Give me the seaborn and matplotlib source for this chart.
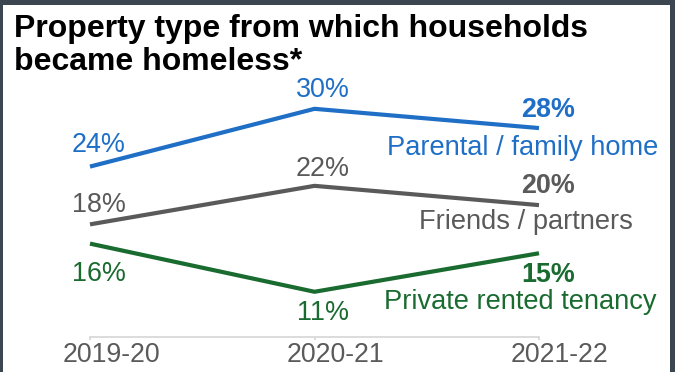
import matplotlib
matplotlib.use("Agg")
import matplotlib.pyplot as plt
from matplotlib.patches import Rectangle
from matplotlib.transforms import ScaledTranslation
import pandas as pd
import seaborn as sns

# Financial years shown on the x axis
years = ["2019-20", "2020-21", "2021-22"]

# Share of households (%) by property type they became homeless from
parental = [24, 30, 28]
friends = [18, 22, 20]
private_rented = [16, 11, 15]

series_names = ["Parental / family home", "Friends / partners", "Private rented tenancy"]
series_values = [parental, friends, private_rented]
colors = ["#1f6fc6", "#5a5a5a", "#1a6b30"]

rows = []
for name, vals in zip(series_names, series_values):
    for i, (yr, v) in enumerate(zip(years, vals)):
        rows.append({"pos": i, "year": yr, "series": name, "value": v})
df = pd.DataFrame(rows)

sns.set_theme(style="white")
plt.rcParams["font.family"] = ["Liberation Sans", "DejaVu Sans"]

DPI = 100
fig = plt.figure(figsize=(6.75, 3.72), dpi=DPI)
fig.patch.set_facecolor("white")
ax = fig.add_axes([0, 0, 1, 1])
ax.set_facecolor("none")

sns.lineplot(
    data=df, x="pos", y="value", hue="series", hue_order=series_names,
    palette=dict(zip(series_names, colors)), linewidth=3.0, legend=False,
    ax=ax, solid_capstyle="butt",
)

ax.set_xlim(-0.4009, 2.6058)
ax.set_ylim(2.669, 41.30)

# Bottom axis: a light rule between the first and last year
for side in ["left", "right", "top"]:
    ax.spines[side].set_visible(False)
ax.spines["bottom"].set_position(("data", 6.30))
ax.spines["bottom"].set_bounds(0, 2)
ax.spines["bottom"].set_color("#d6d6d6")
ax.spines["bottom"].set_linewidth(1.2)
ax.set_yticks([])
ax.set_xticks(range(len(years)))
ax.set_xticklabels(years)
ax.tick_params(axis="x", direction="out", length=2.5, width=1.2, color="#d6d6d6",
               pad=1.0, labelsize=19.2, labelcolor="#5a5a5a", bottom=True)
shift = ScaledTranslation(21 / DPI, 0, fig.dpi_scale_trans)
for lbl in ax.get_xticklabels():
    lbl.set_transform(lbl.get_transform() + shift)
ax.set_xlabel("")
ax.set_ylabel("")

# Value labels: (dx, dy) pixel offsets from each point, last year in bold
offsets = [
    [(9, 15), (8, 12), (9, 11.5)],
    [(9, 12), (8, 10), (9, 12)],
    [(9, -37), (8, -28), (9, -29)],
]
for vals, col, offs in zip(series_values, colors, offsets):
    for i, (v, (dx, dy)) in enumerate(zip(vals, offs)):
        ax.annotate(f"{v}%", xy=(i, v), xytext=(dx, dy), textcoords="offset pixels",
                    ha="center", va="baseline", fontsize=19.4, color=col,
                    fontweight="bold" if i == len(vals) - 1 else "normal")

# Series names beside the last point
name_offsets = [(-16, -26.5), (-13, -23.5), (-19, -55.5)]
for name, vals, col, (dx, dy) in zip(series_names, series_values, colors, name_offsets):
    ax.annotate(name, xy=(len(vals) - 1, vals[-1]), xytext=(dx, dy),
                textcoords="offset pixels", ha="center", va="baseline",
                fontsize=19.6, color=col)

# Title
W, H = 675, 372
fig.text(14 / W, 1 - 36.7 / H, "Property type from which households",
         fontsize=23.0, fontweight="bold", color="black", ha="left", va="baseline")
fig.text(14 / W, 1 - 70 / H, "became homeless*",
         fontsize=23.0, fontweight="bold", color="black", ha="left", va="baseline")

# Dark frame on the left, top and right edges
frame = "#3c4650"
fig.patches.append(Rectangle((0, 0), 3 / W, 1, transform=fig.transFigure,
                             facecolor=frame, edgecolor="none", zorder=10))
fig.patches.append(Rectangle((0, 1 - 5 / H), 1, 5 / H, transform=fig.transFigure,
                             facecolor=frame, edgecolor="none", zorder=10))
fig.patches.append(Rectangle((670 / W, 0), 5 / W, 1, transform=fig.transFigure,
                             facecolor=frame, edgecolor="none", zorder=10))

fig.savefig("out.png", dpi=DPI)
